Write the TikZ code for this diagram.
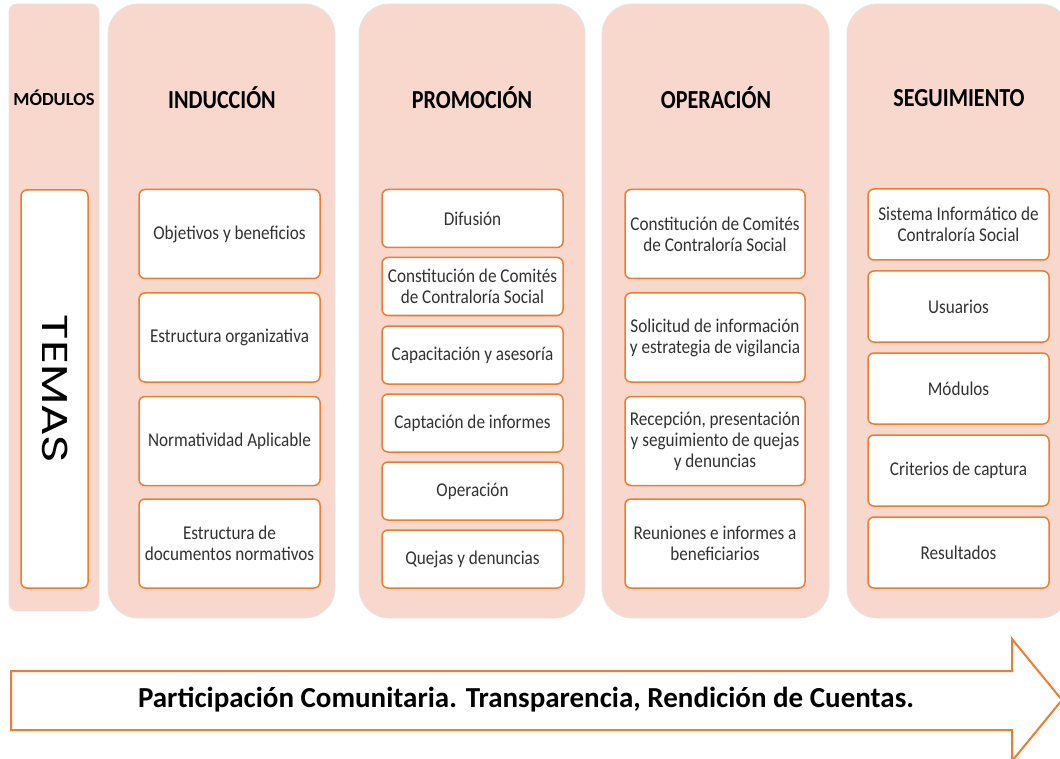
\documentclass[tikz,border=0pt]{standalone}
\usepackage{fontspec}
\setmainfont{Carlito}
\newfontfamily\temasfont{Poppins}[FakeStretch=1.3]
\newfontfamily\condfont{Carlito}[FakeStretch=0.88]
\newfontfamily\hdrfont{Carlito}[FakeStretch=0.85]
\definecolor{colfill}{RGB}{248,215,204}
\definecolor{orng}{RGB}{237,125,49}
\definecolor{txtgray}{RGB}{50,50,50}
\begin{document}
\begin{tikzpicture}[x=1pt,y=-1pt,
  col/.style={draw=black!10, fill=colfill, line width=0.8pt, rounded corners=30pt, inner sep=0pt},
  item/.style={draw=orng, fill=white, line width=1.5pt, rounded corners=6pt, align=center,
    text=txtgray, font=\condfont\fontsize{19.5}{21}\selectfont, inner sep=0pt},
  hdr/.style={font=\hdrfont\bfseries\fontsize{26}{28}\selectfont, text=black},
  band/.style={draw=orng, fill=white, line width=2pt, line join=miter}]
\useasboundingbox (0,0) rectangle (1060,759);
% columns
\node[col, rounded corners=8pt, minimum width=90pt, minimum height=607pt] (cmod) at (54,307.5) {};
\node[col, minimum width=227pt, minimum height=614pt] (cind) at (221.5,311) {};
\node[col, minimum width=226pt, minimum height=614pt] (cpro) at (472,311) {};
\node[col, minimum width=227pt, minimum height=614pt] (cope) at (715.5,311) {};
\node[col, minimum width=223pt, minimum height=614pt] (cseg) at (958.5,311) {};
% headers
\node[hdr, font=\bfseries\fontsize{18.5}{20}\selectfont] (hmod) at (54,98) {MÓDULOS};
\node[hdr] (hind) at (222,98) {INDUCCIÓN};
\node[hdr] (hpro) at (472,98) {PROMOCIÓN};
\node[hdr] (hope) at (716,98) {OPERACIÓN};
\node[hdr] (hseg) at (959,98) {SEGUIMIENTO};
% modulos item
\node[item, minimum width=67pt, minimum height=398pt] (temas) at (54.5,389) {};
\node[rotate=-90, font=\temasfont\fontsize{36}{38}\selectfont, text=black] at (55,389) {TEMAS};
% induccion
\begin{scope}[every node/.style={item, minimum width=181pt, minimum height=89pt}]
\node (i1) at (229.5,234) {Objetivos y beneficios};
\node (i2) at (229.5,337.5) {Estructura organizativa};
\node (i3) at (229.5,441) {Normatividad Aplicable};
\node (i4) at (229.5,543.5) {Estructura de\\documentos normativos};
\end{scope}
% promocion
\begin{scope}[every node/.style={item, minimum width=181pt, minimum height=58pt}]
\node (p1) at (472.5,218.5) {Difusión};
\node (p2) at (472.5,286.5) {Constitución de Comités\\de Contraloría Social};
\node (p3) at (472.5,355) {Capacitación y asesoría};
\node (p4) at (472.5,423) {Captación de informes};
\node (p5) at (472.5,491) {Operación};
\node (p6) at (472.5,559) {Quejas y denuncias};
\end{scope}
% operacion
\begin{scope}[every node/.style={item, minimum width=180pt, minimum height=89pt}]
\node (o1) at (715,234) {Constitución de Comités\\de Contraloría Social};
\node (o2) at (715,337.5) {Solicitud de información\\y estrategia de vigilancia};
\node (o3) at (715,441) {Recepción, presentación\\y seguimiento de quejas\\y denuncias};
\node (o4) at (715,543.5) {Reuniones e informes a\\beneficiarios};
\end{scope}
% seguimiento
\begin{scope}[every node/.style={item, minimum width=181pt, minimum height=71pt}]
\node (s1) at (958.5,224.5) {Sistema Informático de\\Contraloría Social};
\node (s2) at (958.5,306.5) {Usuarios};
\node (s3) at (958.5,388.5) {Módulos};
\node (s4) at (958.5,470.5) {Criterios de captura};
\node (s5) at (958.5,552.5) {Resultados};
\end{scope}
% bottom arrow
\draw[band] (11,671) -- (1012,671) -- (1012,639) -- (1062,700) -- (1012,761) -- (1012,730) -- (11,730) -- cycle;
\node[font=\bfseries\fontsize{29}{32}\selectfont, text=black] (btxt) at (526,700) {Participación Comunitaria. Transparencia, Rendición de Cuentas.};
\end{tikzpicture}
\end{document}
